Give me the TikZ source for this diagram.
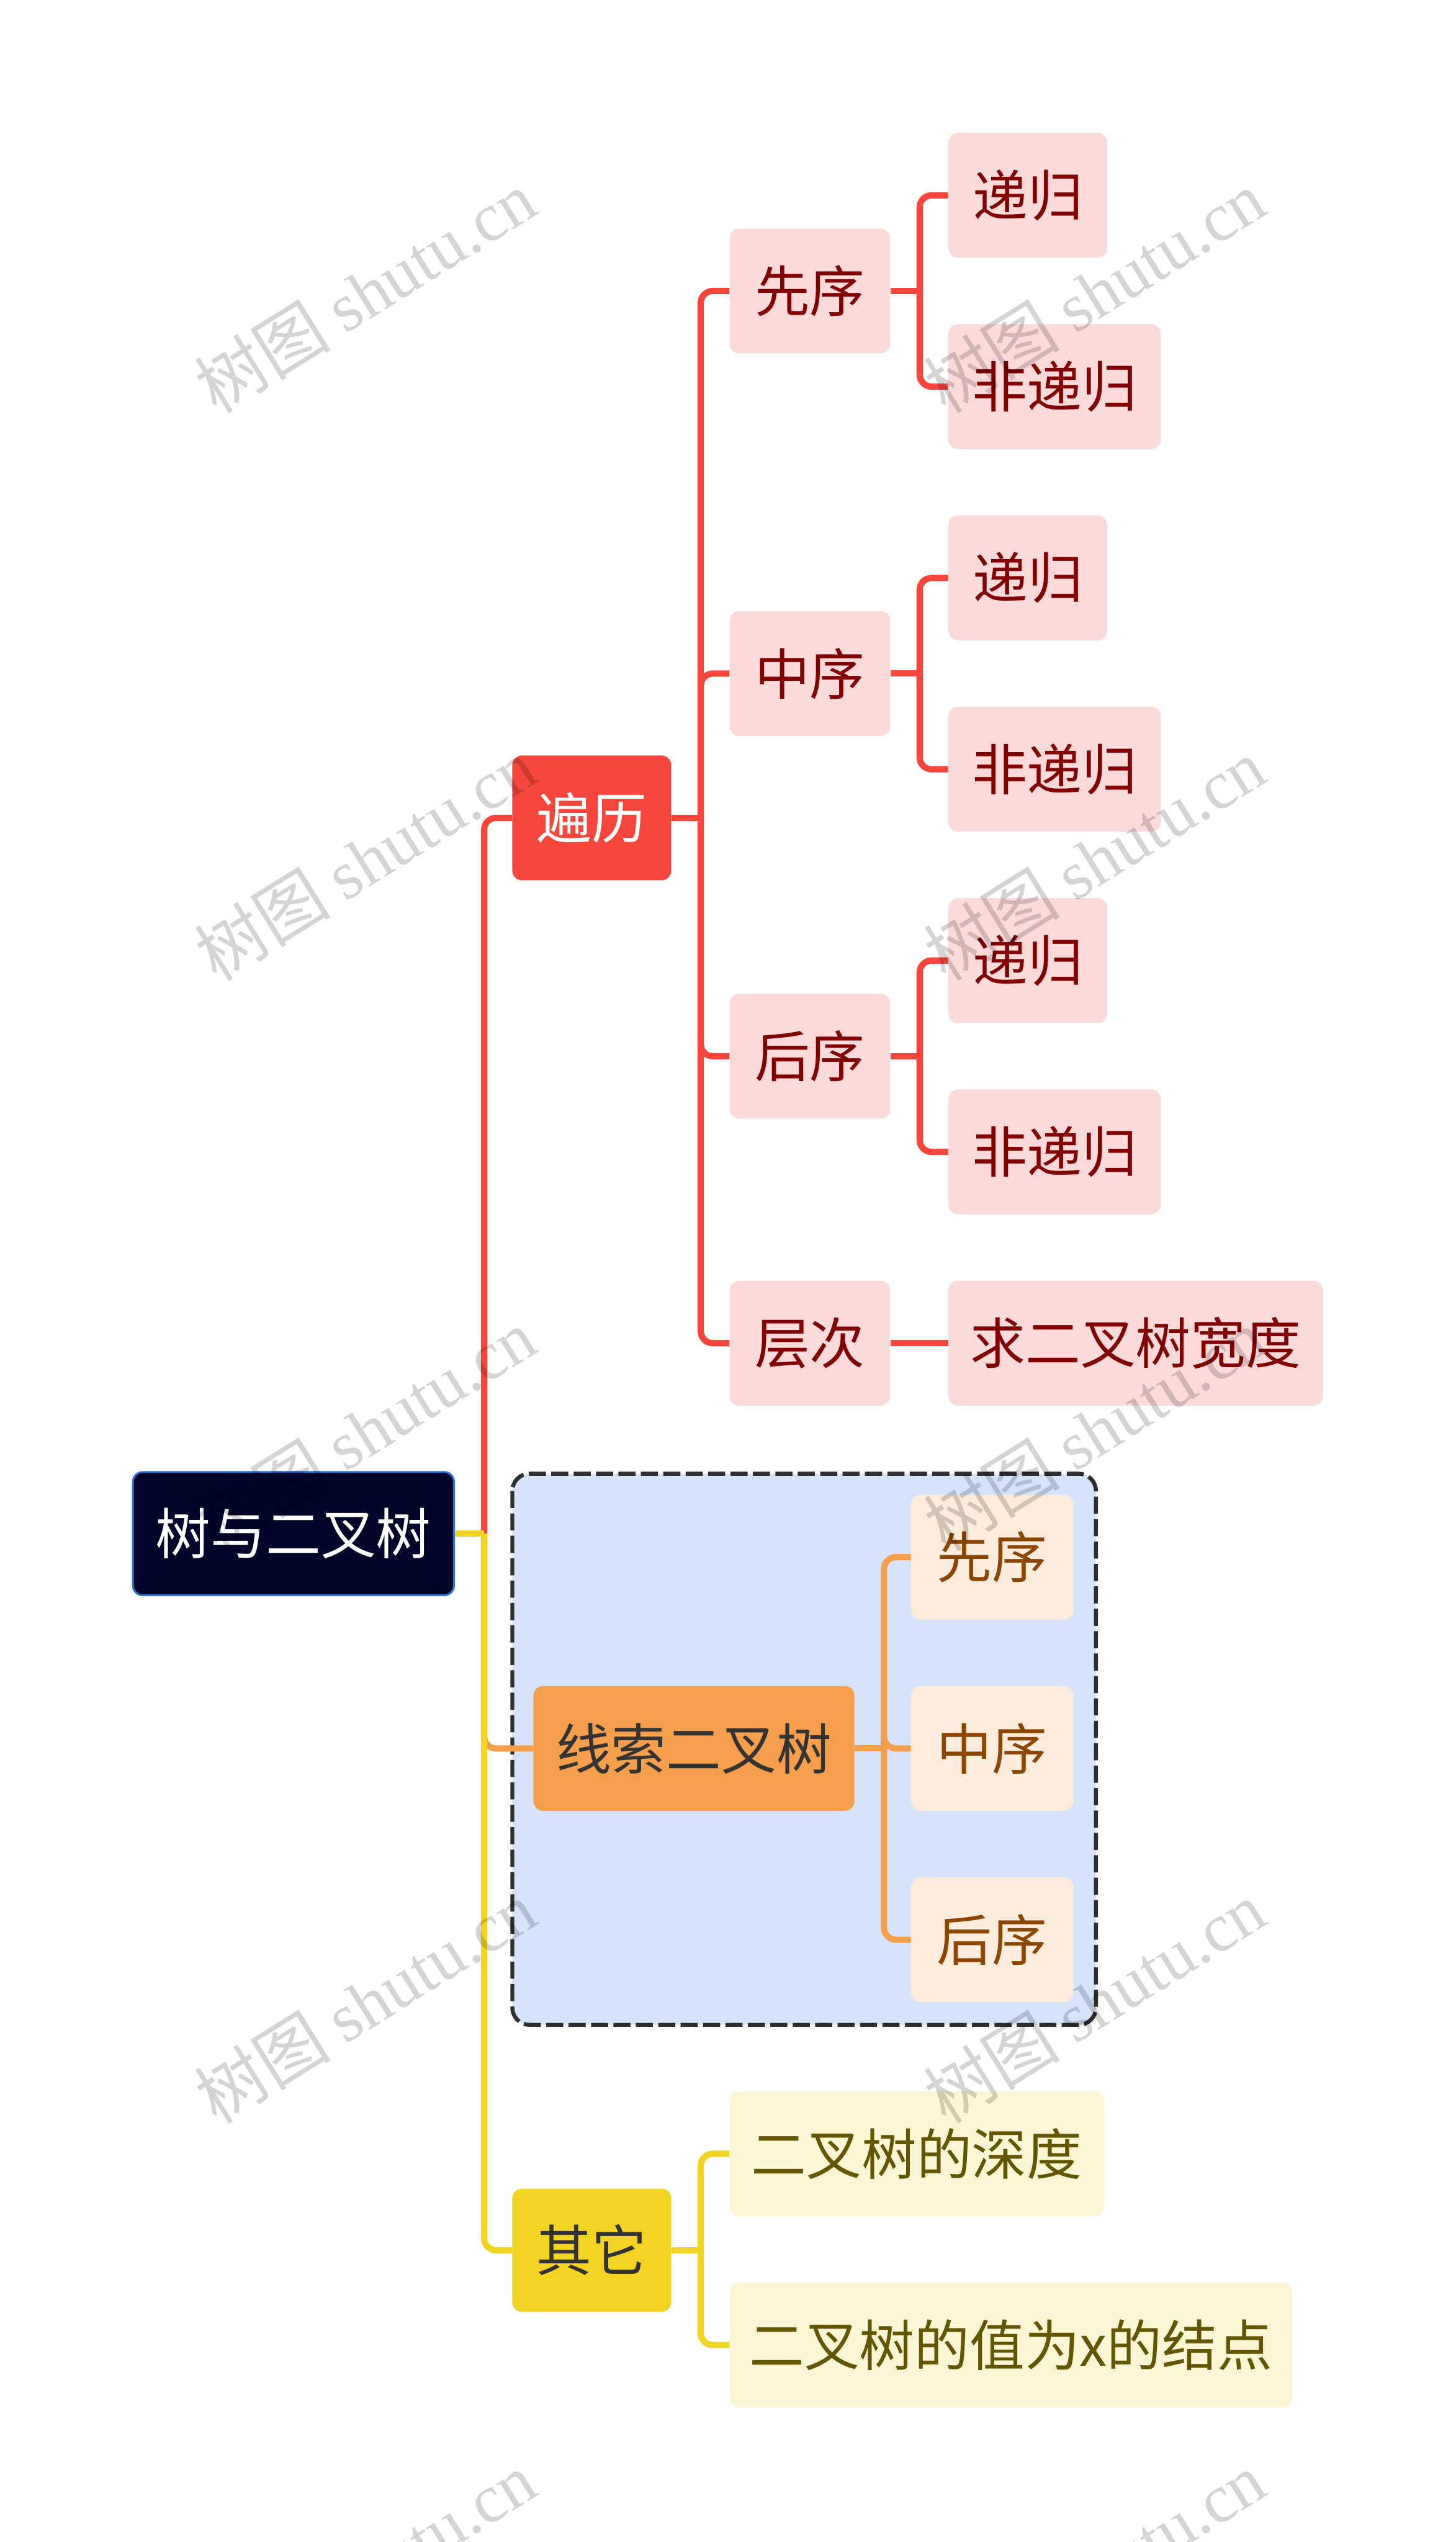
\documentclass[tikz,border=0pt]{standalone}
\usepackage{fontspec}
\setmainfont{Noto Sans CJK SC}
\newfontfamily\wmcjk{Noto Sans CJK SC}
\newfontfamily\wmlat{Liberation Serif}
\usetikzlibrary{calc}
\definecolor{rootfill}{HTML}{02042A}
\definecolor{rootline}{HTML}{2E73D8}
\definecolor{redc}{HTML}{F8463C}
\definecolor{pinkfill}{HTML}{FDDADA}
\definecolor{pinktext}{HTML}{820000}
\definecolor{groupfill}{HTML}{D5E4FB}
\definecolor{groupline}{HTML}{2E2E2E}
\definecolor{orangec}{HTML}{F59E4C}
\definecolor{peachfill}{HTML}{FDEBDC}
\definecolor{peachtext}{HTML}{8C4600}
\definecolor{yellowc}{HTML}{F2D423}
\definecolor{creamfill}{HTML}{FCF6D4}
\definecolor{creamtext}{HTML}{645500}
\definecolor{darktext}{HTML}{333333}
\begin{document}
\begin{tikzpicture}[x=0.03cm,y=-0.03cm,
  box/.style={rectangle, rounded corners=0.18cm, inner sep=0pt, minimum height=2.31cm, font=\fontsize{29}{32}\selectfont},
  rootbox/.style={box, fill=rootfill, draw=rootline, line width=1pt, text=white, minimum width=5.94cm, minimum height=2.28cm},
  redbox/.style={box, fill=redc, text=white},
  pinkbox/.style={box, fill=pinkfill, text=pinktext},
  orangebox/.style={box, fill=orangec, text=darktext},
  peachbox/.style={box, fill=peachfill, text=peachtext, minimum width=3cm},
  yellowbox/.style={box, fill=yellowc, text=darktext},
  creambox/.style={box, fill=creamfill, text=creamtext},
  conn/.style={line width=3.3pt, rounded corners=0.22cm},
  rconn/.style={conn, draw=redc},
  oconn/.style={conn, draw=orangec},
  yconn/.style={conn, draw=yellowc},
  wm/.style={rotate=32, text=black, text opacity=0.17, inner sep=0pt, font=\fontsize{36}{40}\selectfont}
]
\useasboundingbox (0,0) rectangle (898,1568);
\fill[white] (0,0) rectangle (898,1568);

% group frame
\draw[fill=groupfill, draw=groupline, line width=2.1pt, dash pattern=on 9pt off 2.8pt, rounded corners=0.32cm] (316,909) rectangle (676,1249);

% nodes
\node[rootbox] (root) at (181,946) {树与二叉树};
\node[redbox, minimum width=2.94cm] (bianli) at (365,504.5) {遍历};
\node[pinkbox, minimum width=2.97cm] (xx1) at (499.5,179.5) {先序};
\node[pinkbox, minimum width=2.97cm] (zx1) at (499.5,415.5) {中序};
\node[pinkbox, minimum width=2.97cm] (hx1) at (499.5,651.5) {后序};
\node[pinkbox, minimum width=2.97cm] (cc) at (499.5,828.5) {层次};
\node[pinkbox, minimum width=2.94cm] (dg1) at (634,120.5) {递归};
\node[pinkbox, minimum width=3.93cm] (fdg1) at (650.5,238.5) {非递归};
\node[pinkbox, minimum width=2.94cm] (dg2) at (634,356.5) {递归};
\node[pinkbox, minimum width=3.93cm] (fdg2) at (650.5,474.5) {非递归};
\node[pinkbox, minimum width=2.94cm] (dg3) at (634,592.5) {递归};
\node[pinkbox, minimum width=3.93cm] (fdg3) at (650.5,710.5) {非递归};
\node[pinkbox, minimum width=6.93cm] (kd) at (700.5,828.5) {求二叉树宽度};

\node[orangebox, minimum width=5.94cm] (xs) at (428,1078.5) {线索二叉树};
\node[peachbox] (xx2) at (612,960.5) {先序};
\node[peachbox] (zx2) at (612,1078.5) {中序};
\node[peachbox] (hx2) at (612,1196.5) {后序};

\node[yellowbox, minimum width=2.94cm, minimum height=2.28cm] (qt) at (365,1388) {其它};
\node[creambox, minimum width=6.93cm] (sd) at (565.5,1328.5) {二叉树的深度};
\node[creambox, minimum width=10.41cm] (jd) at (623.5,1446.5) {二叉树的值为x的结点};

% junction points
\coordinate (rj) at ($(root.east)+(18,0)$);
\coordinate (bj) at ($(bianli.east)+(18,0)$);
\coordinate (j1) at ($(xx1.east)+(18,0)$);
\coordinate (j2) at ($(zx1.east)+(18,0)$);
\coordinate (j3) at ($(hx1.east)+(18,0)$);
\coordinate (xj) at ($(xs.east)+(18,0)$);
\coordinate (qj) at ($(qt.east)+(18,0)$);

% red connectors
\draw[rconn] (rj) |- (bianli.west);
\draw[rconn] (bianli.east) -- (bj);
\draw[rconn] (bj) |- (xx1.west);
\draw[rconn] (bj) |- (zx1.west);
\draw[rconn] (bj) |- (hx1.west);
\draw[rconn] (bj) |- (cc.west);
\draw[rconn] (xx1.east) -- (j1);
\draw[rconn] (j1) |- (dg1.west);
\draw[rconn] (j1) |- (fdg1.west);
\draw[rconn] (zx1.east) -- (j2);
\draw[rconn] (j2) |- (dg2.west);
\draw[rconn] (j2) |- (fdg2.west);
\draw[rconn] (hx1.east) -- (j3);
\draw[rconn] (j3) |- (dg3.west);
\draw[rconn] (j3) |- (fdg3.west);
\draw[rconn] (cc.east) -- (kd.west);

% orange connectors
\draw[oconn] (rj) |- (xs.west);
\draw[oconn] (xs.east) -- (xj);
\draw[oconn] (xj) |- (xx2.west);
\draw[oconn] (xj) |- (zx2.west);
\draw[oconn] (xj) |- (hx2.west);

% yellow connectors
\draw[yconn] (root.east) -- (rj);
\draw[yconn] (rj) |- (qt.west);
\draw[yconn] (qt.east) -- (qj);
\draw[yconn] (qj) |- (sd.west);
\draw[yconn] (qj) |- (jd.west);

% watermarks
\begin{scope}
\clip (0,0) rectangle (898,1568);
\foreach \wy [count=\i] in {180,530,882,1235,1587} {
  \node[wm] (wml\i) at (225,\wy) {\wmcjk 树图 \wmlat shutu.cn};
  \node[wm] (wmr\i) at (675,\wy) {\wmcjk 树图 \wmlat shutu.cn};
}
\end{scope}
\end{tikzpicture}
\end{document}
